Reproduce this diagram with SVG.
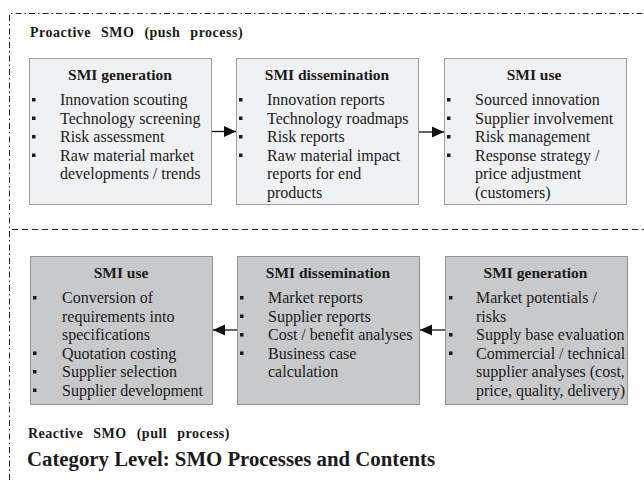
<svg xmlns="http://www.w3.org/2000/svg" width="644" height="480" viewBox="0 0 644 480">
<style>
  .frame-dd { fill: none; stroke: #222; stroke-width: 1; stroke-dasharray: 6 3 1.5 3; }
  .frame-d { fill: none; stroke: #222; stroke-width: 1; stroke-dasharray: 6 4; }
  .box-top { fill: #f0f1f3; stroke: #444; stroke-width: 1; stroke-dasharray: 1 1; }
  .box-bot { fill: #c8c9cb; stroke: #444; stroke-width: 1; stroke-dasharray: 1 1; }
  .title { font-family: "Liberation Serif", "Times New Roman", serif; font-weight: bold; font-size: 15.5px; fill: #1a1a1a; text-anchor: middle; }
  .item { font-family: "Liberation Serif", "Times New Roman", serif; font-size: 16px; fill: #1a1a1a; }
  .label { font-family: "Liberation Serif", "Times New Roman", serif; font-weight: bold; font-size: 14px; fill: #1a1a1a; letter-spacing: 0.5px; word-spacing: 6px; }
  .caption { font-family: "Liberation Serif", "Times New Roman", serif; font-weight: bold; font-size: 20.8px; fill: #1a1a1a; }
  .bullet { fill: #1a1a1a; }
  .conn { stroke: #111; stroke-width: 1.3; fill: none; }
</style>
<defs>
  <marker id="arrow" markerWidth="12" markerHeight="12" refX="12" refY="6" orient="auto" markerUnits="userSpaceOnUse">
    <path d="M0,0.5 L12,6 L0,11.5 Z" fill="#111"/>
  </marker>
</defs>

<g id="frame">
  <path class="frame-dd" d="M9.5,480 L9.5,13.5 L644,13.5"/>
  <line class="frame-d" x1="12" y1="229.5" x2="644" y2="229.5"/>
</g>

<g id="labels">
  <text class="label" x="30" y="37">Proactive SMO (push process)</text>
  <text class="label" x="28" y="438">Reactive SMO (pull process)</text>
  <text class="caption" x="27" y="466">Category Level: SMO Processes and Contents</text>
</g>

<g id="push-generation">
  <rect class="box-top" x="29.5" y="58.5" width="182" height="146"/>
  <text class="title" x="120" y="80">SMI generation</text>
  <rect class="bullet" x="32" y="98" width="3.5" height="3.5"/>
  <rect class="bullet" x="32" y="116.5" width="3.5" height="3.5"/>
  <rect class="bullet" x="32" y="135" width="3.5" height="3.5"/>
  <rect class="bullet" x="32" y="153.5" width="3.5" height="3.5"/>
  <text class="item" x="60" y="105">Innovation scouting</text>
  <text class="item" x="60" y="123.5">Technology screening</text>
  <text class="item" x="60" y="142">Risk assessment</text>
  <text class="item" x="60" y="160.5">Raw material market</text>
  <text class="item" x="60" y="179">developments / trends</text>
</g>

<g id="push-dissemination">
  <rect class="box-top" x="236.5" y="58.5" width="182" height="146"/>
  <text class="title" x="327" y="80">SMI dissemination</text>
  <rect class="bullet" x="239" y="98" width="3.5" height="3.5"/>
  <rect class="bullet" x="239" y="116.5" width="3.5" height="3.5"/>
  <rect class="bullet" x="239" y="135" width="3.5" height="3.5"/>
  <rect class="bullet" x="239" y="153.5" width="3.5" height="3.5"/>
  <text class="item" x="267" y="105">Innovation reports</text>
  <text class="item" x="267" y="123.5">Technology roadmaps</text>
  <text class="item" x="267" y="142">Risk reports</text>
  <text class="item" x="267" y="160.5">Raw material impact</text>
  <text class="item" x="267" y="179">reports for end</text>
  <text class="item" x="267" y="197.5">products</text>
</g>

<g id="push-use">
  <rect class="box-top" x="444.5" y="58.5" width="182" height="146"/>
  <text class="title" x="534" y="80">SMI use</text>
  <rect class="bullet" x="447" y="98" width="3.5" height="3.5"/>
  <rect class="bullet" x="447" y="116.5" width="3.5" height="3.5"/>
  <rect class="bullet" x="447" y="135" width="3.5" height="3.5"/>
  <rect class="bullet" x="447" y="153.5" width="3.5" height="3.5"/>
  <text class="item" x="475" y="105">Sourced innovation</text>
  <text class="item" x="475" y="123.5">Supplier involvement</text>
  <text class="item" x="475" y="142">Risk management</text>
  <text class="item" x="475" y="160.5">Response strategy /</text>
  <text class="item" x="475" y="179">price adjustment</text>
  <text class="item" x="475" y="197.5">(customers)</text>
</g>

<g id="pull-use">
  <rect class="box-bot" x="30.5" y="256.5" width="182" height="148"/>
  <text class="title" x="121" y="278">SMI use</text>
  <rect class="bullet" x="33" y="296" width="3.5" height="3.5"/>
  <rect class="bullet" x="33" y="351.5" width="3.5" height="3.5"/>
  <rect class="bullet" x="33" y="370" width="3.5" height="3.5"/>
  <rect class="bullet" x="33" y="388.5" width="3.5" height="3.5"/>
  <text class="item" x="62" y="303">Conversion of</text>
  <text class="item" x="62" y="321.5">requirements into</text>
  <text class="item" x="62" y="340">specifications</text>
  <text class="item" x="62" y="358.5">Quotation costing</text>
  <text class="item" x="62" y="377">Supplier selection</text>
  <text class="item" x="62" y="395.5">Supplier development</text>
</g>

<g id="pull-dissemination">
  <rect class="box-bot" x="237.5" y="256.5" width="182" height="148"/>
  <text class="title" x="328" y="278">SMI dissemination</text>
  <rect class="bullet" x="240" y="296" width="3.5" height="3.5"/>
  <rect class="bullet" x="240" y="314.5" width="3.5" height="3.5"/>
  <rect class="bullet" x="240" y="333" width="3.5" height="3.5"/>
  <rect class="bullet" x="240" y="351.5" width="3.5" height="3.5"/>
  <text class="item" x="268" y="303">Market reports</text>
  <text class="item" x="268" y="321.5">Supplier reports</text>
  <text class="item" x="268" y="340">Cost / benefit analyses</text>
  <text class="item" x="268" y="358.5">Business case</text>
  <text class="item" x="268" y="377">calculation</text>
</g>

<g id="pull-generation">
  <rect class="box-bot" x="445.5" y="256.5" width="182" height="148"/>
  <text class="title" x="535.5" y="278">SMI generation</text>
  <rect class="bullet" x="449" y="296" width="3.5" height="3.5"/>
  <rect class="bullet" x="449" y="333" width="3.5" height="3.5"/>
  <rect class="bullet" x="449" y="351.5" width="3.5" height="3.5"/>
  <text class="item" x="476" y="303">Market potentials /</text>
  <text class="item" x="476" y="321.5">risks</text>
  <text class="item" x="476" y="340">Supply base evaluation</text>
  <text class="item" x="476" y="358.5">Commercial / technical</text>
  <text class="item" x="476" y="377">supplier analyses (cost,</text>
  <text class="item" x="476" y="395.5">price, quality, delivery)</text>
</g>

<g id="connectors">
  <line class="conn" x1="212" y1="131.5" x2="236" y2="131.5" marker-end="url(#arrow)"/>
  <line class="conn" x1="419" y1="132" x2="444" y2="132" marker-end="url(#arrow)"/>
  <line class="conn" x1="237" y1="330" x2="213" y2="330" marker-end="url(#arrow)"/>
  <line class="conn" x1="445" y1="330" x2="420" y2="330" marker-end="url(#arrow)"/>
</g>
</svg>
